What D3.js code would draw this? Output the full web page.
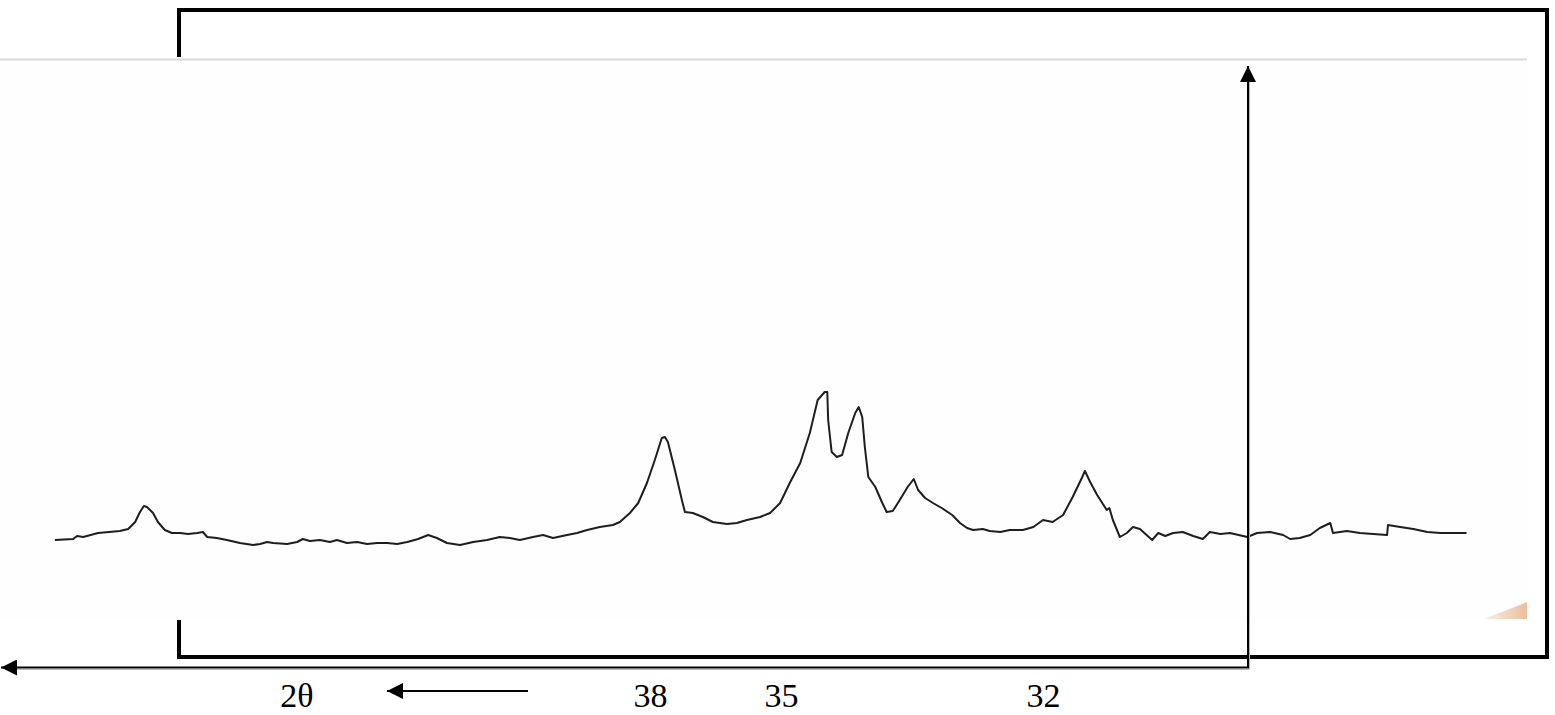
<!DOCTYPE html>
<html>
<head>
<meta charset="utf-8">
<script src="https://cdn.jsdelivr.net/npm/d3@7"></script>
<style>
  body { margin: 0; background: #fff; }
  svg { display: block; }
</style>
</head>
<body>
<div id="chart"></div>
<script>
// diffraction trace: 2theta (deg) and intensity (a.u.)
const twoTheta = [
  51.63, 51.21, 51.12, 50.98, 50.64, 50.14, 49.95, 49.79, 49.68, 49.59,
  49.52, 49.38, 49.27, 49.11, 48.95, 48.76, 48.58, 48.37, 48.24, 48.14,
  47.92, 47.69, 47.39, 47.09, 46.93, 46.77, 46.63, 46.31, 46.08, 45.95,
  45.79, 45.56, 45.33, 45.17, 44.94, 44.71, 44.48, 44.25, 44.02, 43.79,
  43.56, 43.31, 43.08, 42.88, 42.65, 42.35, 42.05, 41.73, 41.44, 41.21,
  40.98, 40.68, 40.45, 40.22, 39.90, 39.67, 39.44, 39.15, 38.85, 38.69,
  38.46, 38.27, 38.07, 37.89, 37.73, 37.66, 37.59, 37.43, 37.27, 37.20,
  37.02, 36.79, 36.56, 36.24, 36.01, 35.78, 35.48, 35.25, 35.02, 34.90,
  34.78, 34.67, 34.58, 34.50, 34.47, 34.46, 34.42, 34.36, 34.30, 34.23,
  34.15, 34.11, 34.07, 34.04, 34.00, 33.92, 33.84, 33.79, 33.72, 33.64,
  33.55, 33.48, 33.43, 33.35, 33.26, 33.16, 33.04, 32.95, 32.87, 32.80,
  32.69, 32.61, 32.49, 32.38, 32.23, 32.11, 32.00, 31.89, 31.77, 31.66,
  31.55, 31.52, 31.46, 31.38, 31.27, 31.24, 31.20, 31.12, 31.04, 30.97,
  30.89, 30.75, 30.68, 30.60, 30.51, 30.40, 30.28, 30.17, 30.09, 29.97,
  29.86, 29.66, 29.55, 29.40, 29.25, 29.17, 29.06, 28.94, 28.83, 28.71,
  28.68, 28.52, 28.37, 28.22, 28.06, 28.05, 27.91, 27.76, 27.60, 27.45,
  27.31, 27.15
]
const intensity = [
  10, 10.5, 12, 11.5, 13.5, 14.5, 15.5, 19, 24, 27,
  26.5, 23.5, 19, 15, 13.5, 13.5, 13, 13.5, 14, 11.5,
  11, 10, 8.5, 7.5, 8, 9, 8.5, 8, 9, 10.5,
  9.5, 10, 9, 10, 8.5, 9, 8, 8.5, 8.5, 8,
  9, 10.5, 12.5, 11, 8.5, 7.5, 9, 10, 11.5, 11,
  10, 11.5, 12.5, 11, 12.5, 13.5, 15, 16.5, 17.5, 19,
  23.5, 28.5, 38.5, 50, 61, 61.5, 59, 45, 30, 24,
  23.5, 21.5, 19, 18, 18.5, 20, 21.5, 23.5, 28.5, 38.5,
  48.5, 63.5, 80, 84, 84, 70, 54, 51.5, 52.5, 63.5,
  73.5, 76.5, 71.5, 56.5, 41.5, 36.5, 28.5, 24, 24.5, 30,
  36.5, 40.5, 35, 31, 28.5, 26, 22.5, 18.5, 16, 15,
  15.5, 14.5, 14, 15, 15, 16.5, 20, 19, 22.5, 31.5,
  41.5, 44.5, 39, 32.5, 25, 26, 20, 11.5, 13.5, 16.5,
  15.5, 10, 13.5, 12, 13.5, 14, 12, 10.5, 14, 13,
  13.5, 11.5, 13.5, 14, 12.5, 10.5, 11, 12.5, 16, 18.5,
  13.5, 14.5, 13.5, 13, 12.5, 17.5, 16.5, 15.5, 14, 13.5,
  13.5, 13.5
]
const tickValues = [38, 35, 32]
const axisTitle = "2θ"

const W = 1555, H = 715
const serif = "'Liberation Serif', 'Times New Roman', serif"

const svg = d3.select("#chart").append("svg")
  .attr("width", W)
  .attr("height", H)

// scanned paper area
svg.append("rect")
  .attr("x", 0).attr("y", 59)
  .attr("width", 1527).attr("height", 561)
  .attr("fill", "#fefefe")
svg.append("line")
  .attr("x1", 0).attr("x2", 1527)
  .attr("y1", 59.5).attr("y2", 59.5)
  .attr("stroke", "#dcd8d8").attr("stroke-width", 2)
const defs = svg.append("defs")
const peach = defs.append("linearGradient")
  .attr("id", "peach").attr("x1", 0).attr("x2", 1)
peach.append("stop").attr("offset", 0).attr("stop-color", "#fbeee4")
peach.append("stop").attr("offset", 1).attr("stop-color", "#eabf9c")
svg.append("path")
  .attr("d", "M1484,619 L1527,602 L1527,619 Z")
  .attr("fill", "url(#peach)")

// the tick labels on the figure are not evenly spaced, so piecewise scale
const x = d3.scaleLinear()
  .domain(tickValues)
  .range([650, 781, 1043])

const y = d3.scaleLinear()
  .domain([0, 100])
  .range([560, 360])

const data = twoTheta.map((t, i) => ({ t: t, v: intensity[i] }))

svg.append("path")
  .datum(data)
  .attr("fill", "none")
  .attr("stroke", "#1e1e1e")
  .attr("stroke-width", 2)
  .attr("stroke-linejoin", "round")
  .attr("d", d3.line()
    .x(d => x(d.t))
    .y(d => y(d.v)))

// outer frame (left side broken where the scan sits on top)
svg.append("path")
  .attr("d", "M179,57 L179,10 L1547,10 L1547,657 L179,657 L179,620")
  .attr("fill", "none")
  .attr("stroke", "#000")
  .attr("stroke-width", 4)

// axis arrows
defs.append("marker")
  .attr("id", "head")
  .attr("viewBox", "0 0 10 10")
  .attr("refX", 10).attr("refY", 5)
  .attr("markerWidth", 8).attr("markerHeight", 8)
  .attr("markerUnits", "strokeWidth")
  .attr("orient", "auto")
  .attr("preserveAspectRatio", "none")
  .append("path").attr("d", "M0,0 L10,5 L0,10 Z").attr("fill", "#000")

// faint grey shadow of the drawn arrows
svg.append("path")
  .attr("d", "M16,669.5 L1249.5,669.5 L1249.5,80")
  .attr("fill", "none").attr("stroke", "#b5b5b5").attr("stroke-width", 1)

svg.append("line")
  .attr("x1", 1249).attr("x2", 1)
  .attr("y1", 667.5).attr("y2", 667.5)
  .attr("stroke", "#000").attr("stroke-width", 2)
  .attr("marker-end", "url(#head)")
svg.append("line")
  .attr("x1", 1248).attr("x2", 1248)
  .attr("y1", 668).attr("y2", 66)
  .attr("stroke", "#000").attr("stroke-width", 2)
  .attr("marker-end", "url(#head)")

// tick labels
const axis = svg.append("g")
  .attr("transform", "translate(0,667)")
  .call(d3.axisBottom(x).tickValues(tickValues).tickSize(0).tickPadding(16).tickFormat(d3.format("d")))
axis.select(".domain").remove()
axis.selectAll("text")
  .attr("font-family", serif)
  .attr("font-size", 34)
  .attr("fill", "#000")

svg.append("text")
  .attr("x", 297).attr("y", 707)
  .attr("text-anchor", "middle")
  .attr("font-family", serif)
  .attr("font-size", 34)
  .text(axisTitle)

svg.append("line")
  .attr("x1", 528).attr("x2", 387)
  .attr("y1", 691).attr("y2", 691)
  .attr("stroke", "#000").attr("stroke-width", 2)
  .attr("marker-end", "url(#head)")
</script>
</body>
</html>
